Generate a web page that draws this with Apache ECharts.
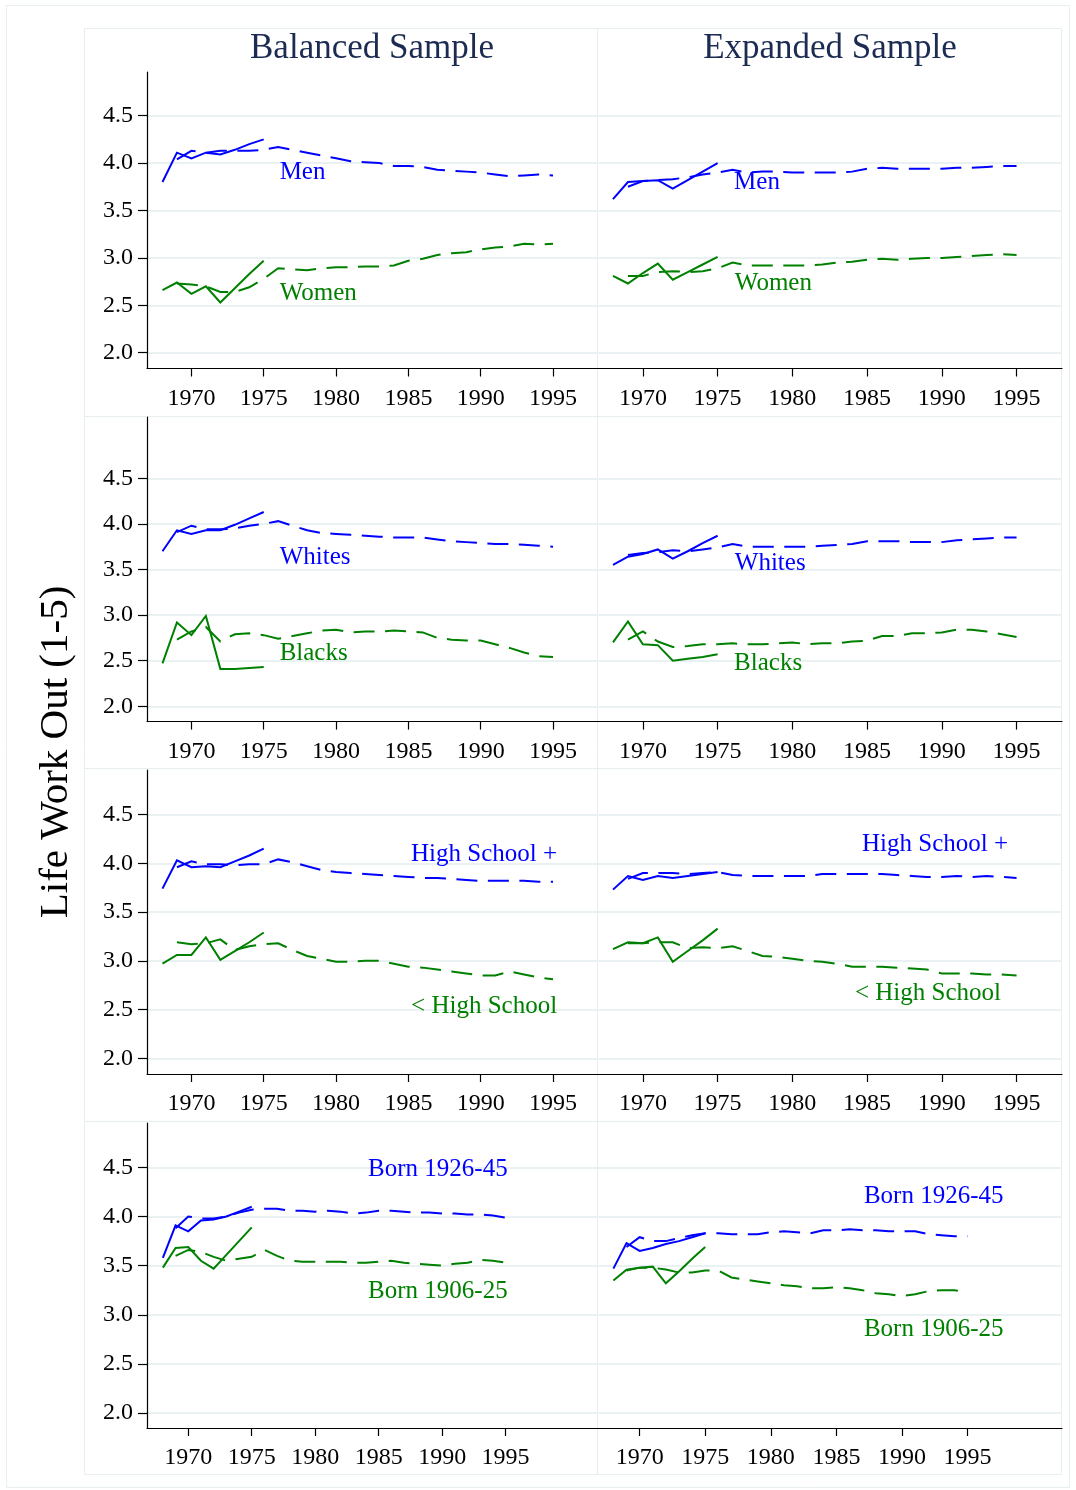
<!DOCTYPE html>
<html><head><meta charset="utf-8">
<script src="https://cdn.jsdelivr.net/npm/echarts@6/dist/echarts.min.js"></script>
<style>html,body{margin:0;padding:0;background:#fff}#c{width:1076px;height:1490px}</style>
</head><body><div id="c"></div>
<script>
// ---------------- DATA ----------------
const solidYears = [1968,1969,1970,1971,1972,1973,1974,1975];
const dashYears = [1969,1970,1971,1972,1973,1974,1975,1976,1977,1978,1979,1980,1981,1982,1983,1984,1985,1986,1987,1988,1989,1990,1991,1992,1993,1994,1995];
const xTickLabels = [1970,1975,1980,1985,1990,1995];
const yTickLabels = [2.0,2.5,3.0,3.5,4.0,4.5];
const columnTitles = ['Balanced Sample','Expanded Sample'];
const yAxisTitle = 'Life Work Out (1-5)';

// Row 1: Men / Women
const balMenSolid   = [3.80,4.11,4.05,4.11,4.09,4.14,4.20,4.25];
const balMenDash    = [4.04,4.13,4.11,4.13,4.13,4.13,4.14,4.17,4.14,4.11,4.08,4.05,4.02,4.01,4.00,3.97,3.97,3.96,3.93,3.92,3.91,3.90,3.88,3.86,3.87,3.88,3.87];
const balWomenSolid = [2.66,2.74,2.62,2.70,2.53,2.68,2.83,2.97];
const balWomenDash  = [2.73,2.72,2.70,2.64,2.64,2.69,2.78,2.89,2.88,2.87,2.89,2.90,2.90,2.91,2.91,2.92,2.97,2.99,3.03,3.05,3.06,3.09,3.11,3.12,3.15,3.14,3.15];
const expMenSolid   = [3.62,3.80,3.81,3.82,3.73,3.82,3.91,4.00];
const expMenDash    = [3.75,3.81,3.82,3.83,3.85,3.88,3.90,3.93,3.90,3.91,3.91,3.90,3.90,3.90,3.90,3.91,3.94,3.95,3.94,3.94,3.94,3.94,3.95,3.95,3.96,3.97,3.97];
const expWomenSolid = [2.81,2.73,2.84,2.94,2.77,2.85,2.93,3.01];
const expWomenDash  = [2.81,2.81,2.85,2.86,2.85,2.86,2.89,2.95,2.92,2.92,2.92,2.92,2.92,2.93,2.95,2.96,2.98,2.99,2.98,2.99,3.00,3.00,3.01,3.02,3.03,3.04,3.03];

// Row 2: Whites / Blacks
const balWhiteSolid = [3.70,3.93,3.89,3.93,3.93,3.99,4.06,4.13];
const balWhiteDash  = [3.91,3.98,3.94,3.94,3.95,3.98,4.00,4.03,3.98,3.93,3.90,3.89,3.88,3.87,3.86,3.85,3.85,3.85,3.83,3.81,3.80,3.79,3.78,3.78,3.77,3.76,3.75];
const balBlackSolid = [2.47,2.92,2.78,2.99,2.41,2.41,2.42,2.43];
const balBlackDash  = [2.73,2.82,2.87,2.71,2.79,2.80,2.78,2.74,2.77,2.80,2.83,2.84,2.81,2.82,2.82,2.83,2.82,2.81,2.75,2.73,2.72,2.72,2.68,2.64,2.59,2.55,2.54];
const expWhiteSolid = [3.55,3.64,3.67,3.72,3.62,3.70,3.79,3.87];
const expWhiteDash  = [3.66,3.68,3.69,3.71,3.70,3.72,3.74,3.78,3.75,3.75,3.75,3.75,3.75,3.76,3.77,3.78,3.81,3.81,3.81,3.80,3.80,3.80,3.82,3.83,3.84,3.85,3.85];
const expBlackSolid = [2.70,2.93,2.68,2.67,2.50,2.52,2.54,2.57];
const expBlackDash  = [2.73,2.82,2.71,2.65,2.66,2.68,2.68,2.69,2.68,2.68,2.69,2.70,2.68,2.69,2.69,2.71,2.72,2.77,2.77,2.80,2.80,2.81,2.84,2.84,2.82,2.79,2.76];

// Row 3: High School + / < High School
const balHSPlusSolid  = [3.74,4.03,3.96,3.97,3.96,4.02,4.08,4.15];
const balHSPlusDash   = [3.96,4.02,3.99,3.99,3.98,3.99,3.99,4.04,4.01,3.97,3.93,3.91,3.90,3.89,3.88,3.87,3.86,3.85,3.85,3.84,3.83,3.82,3.82,3.82,3.82,3.81,3.81];
const balHSLessSolid  = [2.97,3.06,3.06,3.24,3.01,3.10,3.19,3.29];
const balHSLessDash   = [3.19,3.17,3.18,3.22,3.11,3.15,3.17,3.18,3.11,3.05,3.02,2.99,2.99,3.00,3.00,2.97,2.94,2.93,2.91,2.89,2.87,2.85,2.85,2.89,2.86,2.83,2.81];
const expHSPlusSolid  = [3.73,3.87,3.83,3.87,3.85,3.87,3.89,3.91];
const expHSPlusDash   = [3.84,3.90,3.90,3.90,3.89,3.90,3.91,3.88,3.87,3.87,3.87,3.87,3.87,3.89,3.89,3.89,3.89,3.89,3.88,3.87,3.86,3.86,3.87,3.86,3.87,3.86,3.85];
const expHSLessSolid  = [3.12,3.19,3.18,3.24,2.99,3.10,3.21,3.33];
const expHSLessDash   = [3.18,3.18,3.19,3.19,3.13,3.14,3.13,3.15,3.10,3.05,3.04,3.02,3.00,2.99,2.97,2.94,2.94,2.94,2.93,2.92,2.91,2.87,2.87,2.87,2.86,2.86,2.85];

// Row 4: Born 1926-45 / Born 1906-25
const balYoungSolid = [3.58,3.91,3.85,3.96,3.97,4.00,4.05,4.10];
const balYoungDash  = [3.88,4.00,3.98,3.98,4.00,4.04,4.07,4.08,4.08,4.06,4.06,4.05,4.06,4.05,4.03,4.04,4.06,4.06,4.05,4.04,4.04,4.03,4.03,4.02,4.02,4.01,3.99];
const balOldSolid   = [3.48,3.68,3.69,3.55,3.47,3.61,3.75,3.89];
const balOldDash    = [3.60,3.66,3.64,3.59,3.55,3.57,3.59,3.66,3.60,3.55,3.54,3.54,3.54,3.54,3.53,3.53,3.54,3.55,3.53,3.52,3.51,3.50,3.52,3.53,3.56,3.55,3.53];
const expYoungSolid = [3.47,3.73,3.65,3.68,3.72,3.75,3.79,3.83];
const expYoungDash  = [3.69,3.79,3.75,3.75,3.78,3.81,3.83,3.83,3.82,3.82,3.82,3.84,3.85,3.84,3.83,3.86,3.86,3.87,3.86,3.86,3.85,3.85,3.85,3.82,3.81,3.80,3.80];
const expOldSolid   = [3.35,3.46,3.48,3.49,3.32,3.44,3.57,3.69];
const expOldDash    = [3.45,3.48,3.48,3.46,3.43,3.43,3.45,3.45,3.38,3.36,3.34,3.32,3.30,3.29,3.27,3.27,3.28,3.27,3.25,3.22,3.21,3.19,3.21,3.24,3.25,3.25,3.23];

// Group labels: [year, value, text, series]
const balRow1Labels = [[1976.1,3.90,'Men','blue'],[1976.1,2.63,'Women','green']];
const expRow1Labels = [[1976.1,3.80,'Men','blue'],[1976.15,2.735,'Women','green']];
const balRow2Labels = [[1976.1,3.637,'Whites','blue'],[1976.1,2.584,'Blacks','green']];
const expRow2Labels = [[1976.15,3.571,'Whites','blue'],[1976.1,2.475,'Blacks','green']];
const balRow3Labels = [[1995.28,4.096,'High School +','blue'],[1995.28,2.537,'< High School','green']];
const expRow3Labels = [[1994.43,4.198,'High School +','blue'],[1993.96,2.670,'< High School','green']];
const balRow4Labels = [[1995.16,4.475,'Born 1926-45','blue'],[1995.16,3.235,'Born 1906-25','green']];
const expRow4Labels = [[1997.74,4.20,'Born 1926-45','blue'],[1997.74,2.849,'Born 1906-25','green']];

// ---------------- LAYOUT / STYLE ----------------
const BLUE = '#0000ff', GREEN = '#008000';
const FONT = '"Liberation Serif", "DejaVu Serif", serif';
const GRIDC = '#e9f1f3';
const rowsLayout = [
  {top:72,  bottom:368.5, ymin:1.833, ymax:4.961, xmin:1966.93, xmax:1998.04},
  {top:417, bottom:721.6, ymin:1.832, ymax:5.172, xmin:1966.93, xmax:1998.04},
  {top:770, bottom:1074,  ymin:1.839, ymax:4.957, xmin:1966.93, xmax:1998.04},
  {top:1123,bottom:1428,  ymin:1.848, ymax:4.952, xmin:1966.75, xmax:2002.2}
];
const cols = [{left:147,width:450},{left:597,width:465}];

const panels = [
  [[balMenSolid,balMenDash,balWomenSolid,balWomenDash,balRow1Labels],[expMenSolid,expMenDash,expWomenSolid,expWomenDash,expRow1Labels]],
  [[balWhiteSolid,balWhiteDash,balBlackSolid,balBlackDash,balRow2Labels],[expWhiteSolid,expWhiteDash,expBlackSolid,expBlackDash,expRow2Labels]],
  [[balHSPlusSolid,balHSPlusDash,balHSLessSolid,balHSLessDash,balRow3Labels],[expHSPlusSolid,expHSPlusDash,expHSLessSolid,expHSLessDash,expRow3Labels]],
  [[balYoungSolid,balYoungDash,balOldSolid,balOldDash,balRow4Labels],[expYoungSolid,expYoungDash,expOldSolid,expOldDash,expRow4Labels]]
];

const grid=[], xAxis=[], yAxis=[], series=[];
const pair = (xs, ys) => xs.map((x,i)=>[x, ys[i]]);
let gi = 0;
rowsLayout.forEach((r, ri) => {
  cols.forEach((c, ci) => {
    grid.push({left:c.left, top:r.top, width:c.width, height:r.bottom - r.top, containLabel:false});
    xAxis.push({
      type:'value', gridIndex:gi, min:r.xmin, max:r.xmax,
      axisLine:{show:true, onZero:false, lineStyle:{color:'#000', width:1.2}},
      axisTick:{show:true, length:8, inside:false, customValues:xTickLabels, lineStyle:{color:'#000', width:1.2}},
      axisLabel:{show:true, customValues:xTickLabels, fontFamily:FONT, fontSize:24, color:'#000', margin:18, formatter:v=>String(v)},
      splitLine:{show:false}
    });
    yAxis.push({
      type:'value', gridIndex:gi, min:r.ymin, max:r.ymax,
      axisLine:{show: ci===0, onZero:false, lineStyle:{color:'#000', width:1.2}},
      axisTick:{show: ci===0, length:9, customValues:yTickLabels, lineStyle:{color:'#000', width:1.2}},
      axisLabel:{show: ci===0, customValues:yTickLabels, fontFamily:FONT, fontSize:24, color:'#000', margin:14,
        padding:[5,0,0,0], formatter:v=>v.toFixed(1)},
      splitLine:{show:false}
    });
    const p = panels[ri][ci];
    series.push({
      type:'line', xAxisIndex:gi, yAxisIndex:gi, data:[], silent:true, z:0,
      markLine:{silent:true, z:0, symbol:'none', label:{show:false}, animation:false,
        lineStyle:{color:GRIDC, width:2, type:'solid'},
        data: yTickLabels.map(v=>({yAxis:v}))}
    });
    const mk = (ys, xs, color, dashed) => ({
      type:'line', xAxisIndex:gi, yAxisIndex:gi, data:pair(xs, ys),
      showSymbol:false, symbol:'none', smooth:false, z:3, animation:false,
      lineStyle:{color, width:2, type: dashed ? [21,10.5] : 'solid', cap:'butt', join:'miter'}
    });
    series.push(mk(p[0], solidYears, BLUE, false));
    series.push(mk(p[1], dashYears, BLUE, true));
    series.push(mk(p[2], solidYears, GREEN, false));
    series.push(mk(p[3], dashYears, GREEN, true));
    series.push({
      type:'scatter', xAxisIndex:gi, yAxisIndex:gi, symbolSize:1, z:6, animation:false,
      itemStyle:{color:'rgba(0,0,0,0)'}, silent:true,
      data: p[4].map(d=>({value:[d[0], d[1]], name:d[2],
        label:{show:true, position:'inside', formatter:d[2], fontFamily:FONT, fontSize:25,
          color: d[3]==='blue' ? BLUE : GREEN, textBorderWidth:0, opacity:1,
          align: (ri>=2) ? 'right' : 'left', verticalAlign:'middle'}}))
    });
    gi++;
  });
});

const LIGHT = '#e6eef0';
const graphic = [
  {type:'rect', shape:{x:6.5,y:5.5,width:1063,height:1482}, style:{fill:null, stroke:LIGHT, lineWidth:1}, silent:true, z:-10},
  {type:'rect', shape:{x:84.5,y:28.5,width:977,height:1446}, style:{fill:null, stroke:LIGHT, lineWidth:1}, silent:true, z:-10},
  {type:'line', shape:{x1:597.5,y1:28,x2:597.5,y2:1475}, style:{stroke:LIGHT, lineWidth:1}, silent:true, z:-10},
  {type:'line', shape:{x1:84,y1:416.5,x2:1062,y2:416.5}, style:{stroke:LIGHT, lineWidth:1}, silent:true, z:-10},
  {type:'line', shape:{x1:84,y1:768.5,x2:1062,y2:768.5}, style:{stroke:LIGHT, lineWidth:1}, silent:true, z:-10},
  {type:'line', shape:{x1:84,y1:1121.5,x2:1062,y2:1121.5}, style:{stroke:LIGHT, lineWidth:1}, silent:true, z:-10},
  {type:'text', x:372, y:49, style:{text:columnTitles[0], fontFamily:FONT, fontSize:35, fill:'#1c2b52', textAlign:'center', textVerticalAlign:'middle'}},
  {type:'text', x:830, y:49, style:{text:columnTitles[1], fontFamily:FONT, fontSize:35, fill:'#1c2b52', textAlign:'center', textVerticalAlign:'middle'}},
  {type:'text', x:56, y:752, rotation:Math.PI/2, style:{text:yAxisTitle, fontFamily:FONT, fontSize:41, fill:'#000', textAlign:'center', textVerticalAlign:'middle'}}
];

const chart = echarts.init(document.getElementById('c'), null, {renderer:'canvas'});
chart.setOption({backgroundColor:'#ffffff', animation:false, grid, xAxis, yAxis, series, graphic});
</script>
</body></html>
